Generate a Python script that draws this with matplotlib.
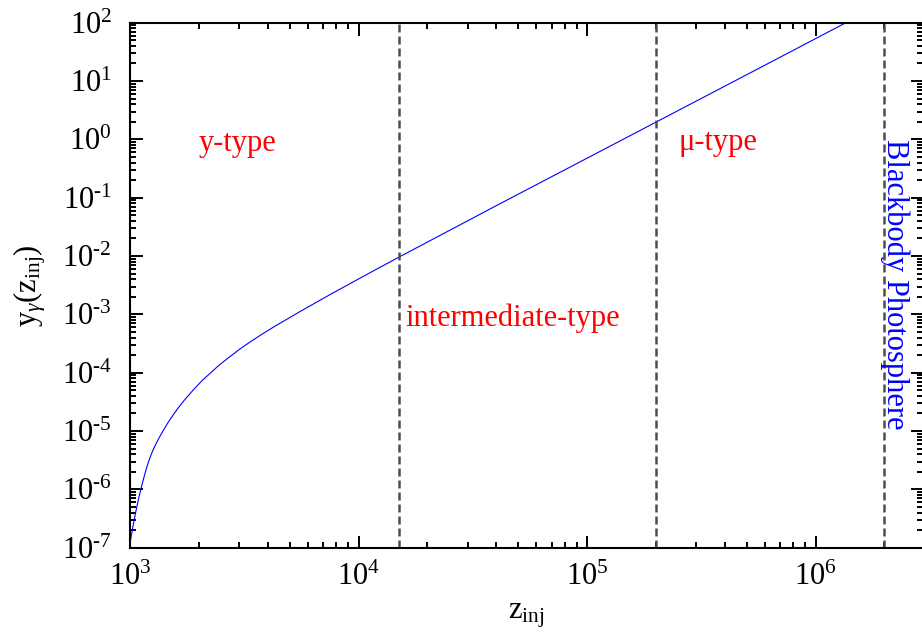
import numpy as np
import matplotlib
matplotlib.use("Agg")
import matplotlib.pyplot as plt
from matplotlib.ticker import LogLocator, FixedLocator, FuncFormatter, NullFormatter

plt.rcParams['font.family'] = ['Liberation Serif', 'DejaVu Serif']
plt.rcParams['mathtext.fontset'] = 'custom'
plt.rcParams['mathtext.rm'] = 'Liberation Serif'
plt.rcParams['mathtext.it'] = 'Liberation Serif:italic'
plt.rcParams['mathtext.bf'] = 'Liberation Serif:bold'

# y_gamma(z_inj)
z_inj = [1000, 1020, 1040, 1060, 1087, 1110, 1130, 1155, 1183, 1210, 1240,
         1270, 1309, 1350, 1400, 1450, 1496, 1550, 1610, 1680, 1741, 1850,
         1950, 2080, 2240, 2450, 2700, 3000, 3350, 3800, 4300, 5550, 7500,
         1.0e4, 1.5e4, 4.0e4, 2.0e5, 6.0e5, 1.39e6, 1.5e6]
y_gamma = [1.20e-7, 1.86e-7, 2.82e-7, 4.12e-7, 6.56e-7, 9.27e-7, 1.23e-6,
           1.70e-6, 2.37e-6, 3.12e-6, 4.02e-6, 5.01e-6, 6.40e-6, 8.04e-6,
           1.03e-5, 1.30e-5, 1.57e-5, 1.92e-5, 2.37e-5, 2.94e-5, 3.49e-5,
           4.59e-5, 5.75e-5, 7.50e-5, 9.73e-5, 1.34e-4, 1.81e-4, 2.48e-4,
           3.36e-4, 4.63e-4, 6.24e-4, 1.12e-3, 2.18e-3, 4.05e-3, 9.55e-3,
           7.28e-2, 1.97, 18.7, 105.0, 123.0]

# boundaries between the distortion eras
z_bounds = [1.5e4, 2.0e5, 2.0e6]

era_labels = ["y-type", "intermediate-type", "\u03bc-type"]
era_pos = [(2.0e3, 0.62), (1.6e4, 6.3e-4), (2.5e5, 0.66)]

x_decades = [3, 4, 5, 6]
y_decades = [-7, -6, -5, -4, -3, -2, -1, 0, 1, 2]


def pow10(v, pos):
    n = int(round(np.log10(v)))
    if n < 0:
        return r"$10^{\text{-}%d}$" % (-n)
    return r"$10^{%d}$" % n


fig = plt.figure(figsize=(9.22, 6.35), dpi=100)
ax = fig.add_axes([130 / 922, 1 - 547.7 / 635, 793 / 922, 525 / 635])

ax.plot(z_inj, y_gamma, color="#0000ff", lw=0.8)
for zb in z_bounds:
    ax.axvline(zb, color="#4d4d4d", lw=1.8, ls=(0, (3.2, 1.6)))

ax.set_xscale("log")
ax.set_yscale("log")
ax.set_xlim(1e3, 2.95e6)
ax.set_ylim(1e-7, 1e2)

ax.xaxis.set_major_locator(FixedLocator([10.0 ** d for d in x_decades]))
ax.yaxis.set_major_locator(FixedLocator([10.0 ** d for d in y_decades]))
ax.xaxis.set_minor_locator(LogLocator(base=10, subs=np.arange(2, 10), numticks=100))
ax.yaxis.set_minor_locator(LogLocator(base=10, subs=np.arange(2, 10), numticks=100))
ax.xaxis.set_major_formatter(FuncFormatter(pow10))
ax.yaxis.set_major_formatter(FuncFormatter(pow10))
ax.xaxis.set_minor_formatter(NullFormatter())
ax.yaxis.set_minor_formatter(NullFormatter())

ax.tick_params(which="both", direction="in", top=True, right=True, width=1.4, labelsize=22)
ax.tick_params(which="major", length=9)
ax.tick_params(which="minor", length=4.5)
ax.tick_params(axis="x", which="major", pad=11)
ax.tick_params(axis="y", which="major", pad=13)
for sp in ax.spines.values():
    sp.set_linewidth(1.5)

ax.set_xlabel(r"$\mathrm{z_{inj}}$", fontsize=22, labelpad=6)
ax.set_ylabel(r"$\mathrm{y}_{\gamma}(\mathrm{z}_{\mathrm{inj}})$", fontsize=22, labelpad=10)

for lab, (xt, yt) in zip(era_labels, era_pos):
    ax.text(xt, yt, lab, color="#ff0000", fontsize=22, ha="left", va="baseline")

ax.text(2.22e6, 1.0, "Blackbody Photosphere", color="#0000ff", fontsize=22,
        rotation=270, ha="center", va="top")

fig.savefig("out.png", dpi=100)
